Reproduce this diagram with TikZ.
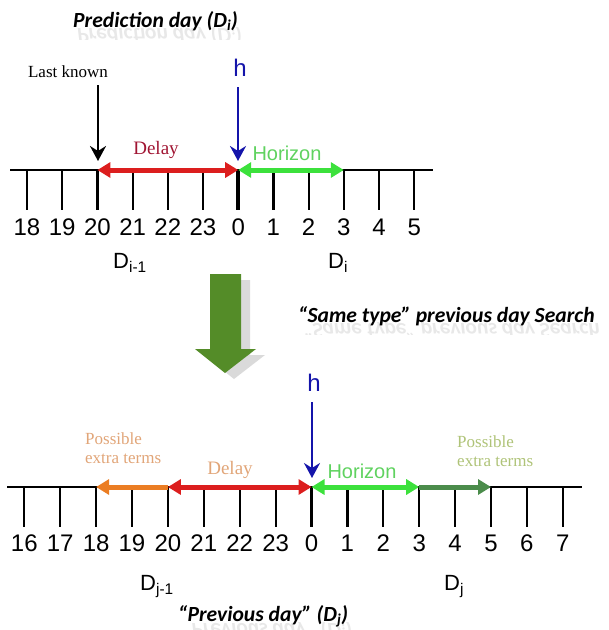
\documentclass[tikz,border=0pt]{standalone}
\usepackage{fontspec}
\setmainfont{Liberation Serif}
\newfontfamily\arialf{Liberation Sans}
\newfontfamily\calf{Carlito}
\usetikzlibrary{arrows.meta}
\definecolor{delayred}{RGB}{160,20,50}
\definecolor{redarr}{RGB}{220,30,30}
\definecolor{greenarr}{RGB}{60,225,60}
\definecolor{horizontxt}{RGB}{95,210,95}
\definecolor{hblue}{RGB}{20,20,170}
\definecolor{bigg}{RGB}{84,140,40}
\definecolor{orangearr}{RGB}{235,125,35}
\definecolor{darkgarr}{RGB}{75,140,75}
\definecolor{tantxt}{RGB}{225,165,120}
\definecolor{olivetxt}{RGB}{175,195,120}
\definecolor{reflect}{RGB}{232,232,232}
\definecolor{shadowgray}{RGB}{218,218,218}
\begin{document}
\begin{tikzpicture}[x=1pt,y=-1pt,
  axis/.style={line width=2.4pt, black},
  tickline/.style={line width=2.2pt, black},
  zerotick/.style={line width=3.6pt, black},
  num/.style={font=\arialf\fontsize{24}{24}\selectfont, inner sep=0pt},
  daylab/.style={font=\arialf\fontsize{22}{22}\selectfont, inner sep=0pt, anchor=base west},
  ttl/.style={font=\calf\bfseries\itshape\fontsize{21.6}{22}\selectfont, inner sep=0pt, anchor=base west},
  refl/.style={ttl, text=reflect, yscale=-1, transform shape},
  serifl/.style={font=\fontsize{17}{19}\selectfont, inner sep=0pt},
  delaylab/.style={font=\fontsize{19}{19}\selectfont, inner sep=0pt},
  horlab/.style={font=\arialf\fontsize{20}{20}\selectfont, text=horizontxt, inner sep=0pt},
  hlab/.style={font=\arialf\fontsize{24}{24}\selectfont, text=hblue, inner sep=0pt},
  dbl/.style={line width=5pt, {Triangle[length=13pt,width=15pt]}-{Triangle[length=13pt,width=15pt]}},
  sgl/.style={line width=5pt, -{Triangle[length=13pt,width=15pt]}},
  vdown/.style={line width=2.2pt, -{Stealth[length=15pt,width=16pt,inset=5pt]}},
]
\useasboundingbox (0,0) rectangle (609,630);

% ---------- titles ----------
\begin{scope}
  \clip (60,27) rectangle (260,39);
  \node[refl] at (77,28) {Prediction day (D\textsubscript{i})};
\end{scope}
\node[ttl] (t1) at (73,27) {Prediction day (D\textsubscript{i})};

% ---------- top timeline ----------
\coordinate (tl) at (10,170);
\coordinate (tr) at (433,170);
\draw[axis] (tl) -- (tr);
\foreach \l [count=\i from 0] in {18,19,20,21,22,23,0,1,2,3,4,5} {
  \coordinate (ta\i) at ({27+35.2*\i},170);
  \node[num] (na\i) at ({27+35.2*\i},227) {\l};
}
\foreach \i in {0,...,11} \draw[tickline] (ta\i) -- ++(0,40);
\draw[zerotick] (ta6) -- ++(0,40);
\draw[dbl, redarr] (ta2) -- (ta6);
\draw[dbl, greenarr] (ta6) -- (ta9);

\node[serifl] (lk) at (68,72) {Last known};
\coordinate (lks) at (98,85);
\coordinate (lkt) at (98,161);
\draw[vdown, black] (lks) -- (lkt);

\node[hlab] (h1) at (240,68) {h};
\coordinate (h1s) at (238,87);
\coordinate (h1t) at (238,161);
\draw[vdown, hblue] (h1s) -- (h1t);

\node[delaylab, text=delayred] (dl1) at (156,150) {Delay};
\node[horlab] (hz1) at (287,153) {Horizon};

\node[daylab] (di1) at (113,268) {D\textsubscript{i-1}};
\node[daylab] (di) at (328,268) {D\textsubscript{i}};

% ---------- big arrow ----------
\fill[shadowgray, shift={(9,6)}] (210,274) -- (241,274) -- (241,349) -- (256,349) -- (225,373) -- (195,349) -- (210,349) -- cycle;
\fill[bigg] (210,274) -- (241,274) -- (241,349) -- (256,349) -- (225,373) -- (195,349) -- (210,349) -- cycle;

\begin{scope}
  \clip (290,322) rectangle (609,334);
  \node[refl] at (303,323) {“Same type” previous day Search};
\end{scope}
\node[ttl] (st) at (298,322) {“Same type” previous day Search};

% ---------- bottom timeline ----------
\coordinate (bl) at (7,487);
\coordinate (br) at (582,487);
\draw[axis] (bl) -- (br);
\foreach \l [count=\i from 0] in {16,17,18,19,20,21,22,23,0,1,2,3,4,5,6,7} {
  \coordinate (bb\i) at ({24.3+35.9*\i},487);
  \node[num] (nb\i) at ({24.3+35.9*\i},543) {\l};
}
\foreach \i in {0,...,15} \draw[tickline] (bb\i) -- ++(0,40);
\draw[zerotick] (bb8) -- ++(0,40);
\draw[sgl, orangearr] (bb4) -- (bb2);
\draw[dbl, redarr] (bb4) -- (bb8);
\draw[dbl, greenarr] (bb8) -- (bb11);
\draw[sgl, darkgarr] (bb11) -- (bb13);

\node[hlab] (h2) at (314,383) {h};
\coordinate (h2s) at (312,402);
\coordinate (h2t) at (312,478);
\draw[vdown, hblue] (h2s) -- (h2t);

\node[serifl, text=tantxt, align=left, anchor=west] (pe1) at (85,448) {Possible\\extra terms};
\node[serifl, text=olivetxt, align=left, anchor=west] (pe2) at (457,451) {Possible\\extra terms};
\node[delaylab, text=tantxt] (dl2) at (230,470) {Delay};
\node[horlab] (hz2) at (362,471) {Horizon};

\node[daylab] (dj1) at (140,590) {D\textsubscript{j-1}};
\node[daylab] (dj) at (444,590) {D\textsubscript{j}};

\begin{scope}
  \clip (170,622) rectangle (370,630);
  \node[refl] at (182,623) {“Previous day” (D\textsubscript{j})};
\end{scope}
\node[ttl] (pd) at (178,621) {“Previous day” (D\textsubscript{j})};
\end{tikzpicture}
\end{document}
